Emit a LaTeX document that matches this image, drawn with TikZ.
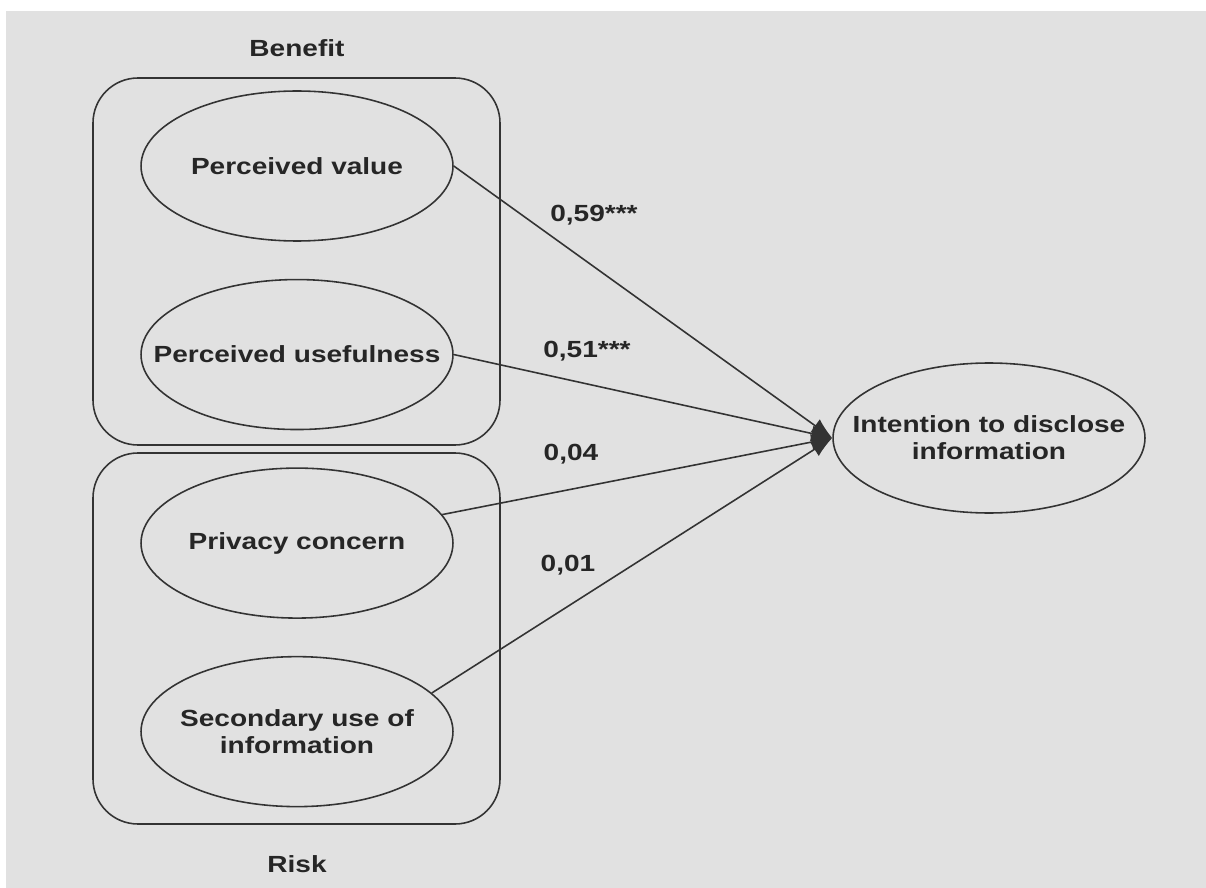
\documentclass[tikz,border=0pt]{standalone}
\usepackage{fontspec}
\setmainfont{Liberation Sans}[FakeStretch=1.2]
\usetikzlibrary{positioning,arrows.meta,shapes.geometric,fit}
\definecolor{bggray}{HTML}{E1E1E1}

\begin{document}
\begin{tikzpicture}[x=0.02cm, y=-0.02cm,
  construct/.style={draw=black!80, ellipse, line width=0.9pt, minimum width=6.24cm,
              minimum height=3cm, inner xsep=-0.7cm, inner ysep=0pt, align=center,
              text=black!85, font=\fontsize{13.3}{15.5}\selectfont\bfseries},
  group/.style={draw=black!80, line width=0.9pt, rounded corners=0.9cm, inner sep=0pt},
  lbl/.style={font=\fontsize{13.3}{15.5}\selectfont\bfseries, text=black!85},
  arr/.style={-{Latex[length=0.42cm,width=0.32cm]}, black!80, line width=0.9pt}]
\useasboundingbox (0,0) rectangle (1206,888);
\fill[bggray] (6,11) rectangle (1206,888);
% constructs
\node[construct] (pv) at (297,166) {Perceived value};
\node[construct, below=0.74cm of pv] (pu) {Perceived usefulness};
\node[construct, below=0.74cm of pu] (pc) {Privacy concern};
\node[construct, below=0.74cm of pc] (su) {Secondary use of\\ information};
\node[construct] (int) at (989,438) {Intention to disclose\\ information};
% groups
\node[group, fit={(93,78) (500,445)}] (benefit) {};
\node[group, fit={(93,453) (500,824)}] (risk) {};
\node[lbl] (benefitlbl) at (297,48) {Benefit};
\node[lbl] (risklbl) at (297,864) {Risk};
% paths
\draw[arr] (pv.east) -- (int.west);
\draw[arr] (pu.east) -- (int.west);
\draw[arr] (pc) -- (int.west);
\draw[arr] (su.16) -- (int.west);
\node[lbl] (w1) at (594,215) {0,59***};
\node[lbl] (w2) at (587,351) {0,51***};
\node[lbl] (w3) at (571,454) {0,04};
\node[lbl] (w4) at (568,565) {0,01};
\end{tikzpicture}
\end{document}
